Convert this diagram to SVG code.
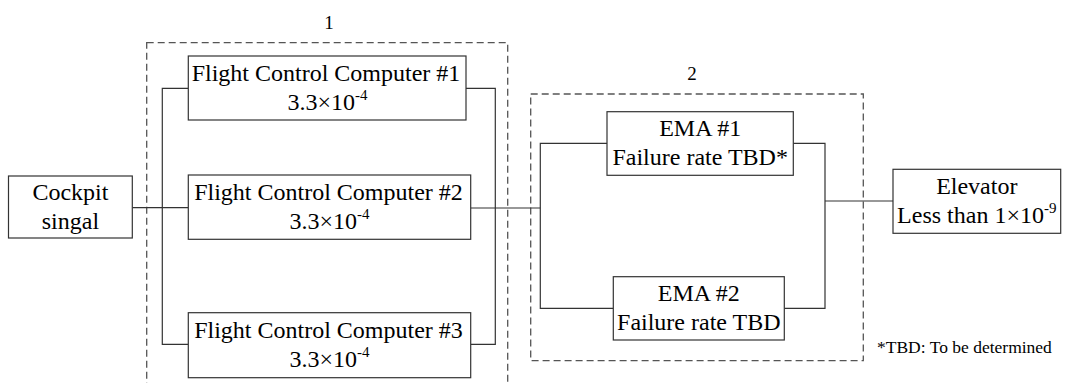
<svg xmlns="http://www.w3.org/2000/svg" width="1065" height="383" viewBox="0 0 1065 383">
<style>
.box{fill:#fff;stroke:#333;stroke-width:1.2}
.grp{fill:none;stroke:#555;stroke-width:1.3;stroke-dasharray:7,4}
.wire{fill:none;stroke:#333;stroke-width:1.2}
text{fill:#000;font-size:24px;text-anchor:middle}
.sup{font-size:15px}
.lbl{font-size:19px}
.note{font-size:17.5px;text-anchor:start}
</style>
<rect width="1065" height="383" fill="#fff"/>
<g font-family="'Liberation Serif', 'Times New Roman', 'DejaVu Serif', serif">
<g id="group1">
<rect class="grp" x="146.7" y="42.7" width="361" height="346"/>
<text class="lbl" x="329" y="29">1</text>
</g>
<g id="group2">
<rect class="grp" x="530.7" y="94" width="332.6" height="266.7"/>
<text class="lbl" x="692" y="80">2</text>
</g>
<g id="connectors">
<path class="wire" d="M132.3 207.7H188.3"/>
<path class="wire" d="M188.3 88.3H162.3V344.3H188.3"/>
<path class="wire" d="M466 88.3H495.3V344.3H470.7"/>
<path class="wire" d="M470.7 208H540.3"/>
<path class="wire" d="M607 143.3H540.3V308.3H613.3"/>
<path class="wire" d="M793.3 143.3H825V308.3H784.3"/>
<path class="wire" d="M825 201H893"/>
</g>
<g id="cockpit">
<rect class="box" x="8.5" y="176" width="123.8" height="62"/>
<text x="70.4" y="200">Cockpit</text>
<text x="70.4" y="229">singal</text>
</g>
<g id="fcc1">
<rect class="box" x="188.3" y="56" width="277.7" height="64"/>
<text x="326" y="81">Flight Control Computer #1</text>
<text x="327.5" y="110">3.3×10<tspan class="sup" dy="-10">-4</tspan></text>
</g>
<g id="fcc2">
<rect class="box" x="188.3" y="175" width="282.4" height="64.3"/>
<text x="328.5" y="200">Flight Control Computer #2</text>
<text x="329.5" y="229">3.3×10<tspan class="sup" dy="-10">-4</tspan></text>
</g>
<g id="fcc3">
<rect class="box" x="188.3" y="312.7" width="282.4" height="65"/>
<text x="328.5" y="338">Flight Control Computer #3</text>
<text x="329.5" y="367">3.3×10<tspan class="sup" dy="-10">-4</tspan></text>
</g>
<g id="ema1">
<rect class="box" x="607" y="111.7" width="186.3" height="63.6"/>
<text x="700.2" y="136">EMA #1</text>
<text x="700.2" y="165">Failure rate TBD*</text>
</g>
<g id="ema2">
<rect class="box" x="613.3" y="276.7" width="171" height="63.3"/>
<text x="698.8" y="301">EMA #2</text>
<text x="698.8" y="330">Failure rate TBD</text>
</g>
<g id="elevator">
<rect class="box" x="893" y="169.3" width="167.7" height="64"/>
<text x="976.8" y="194">Elevator</text>
<text x="976.8" y="223">Less than 1×10<tspan class="sup" dy="-10">-9</tspan></text>
</g>
<text class="note" x="877" y="353">*TBD: To be determined</text>
</g>
</svg>
